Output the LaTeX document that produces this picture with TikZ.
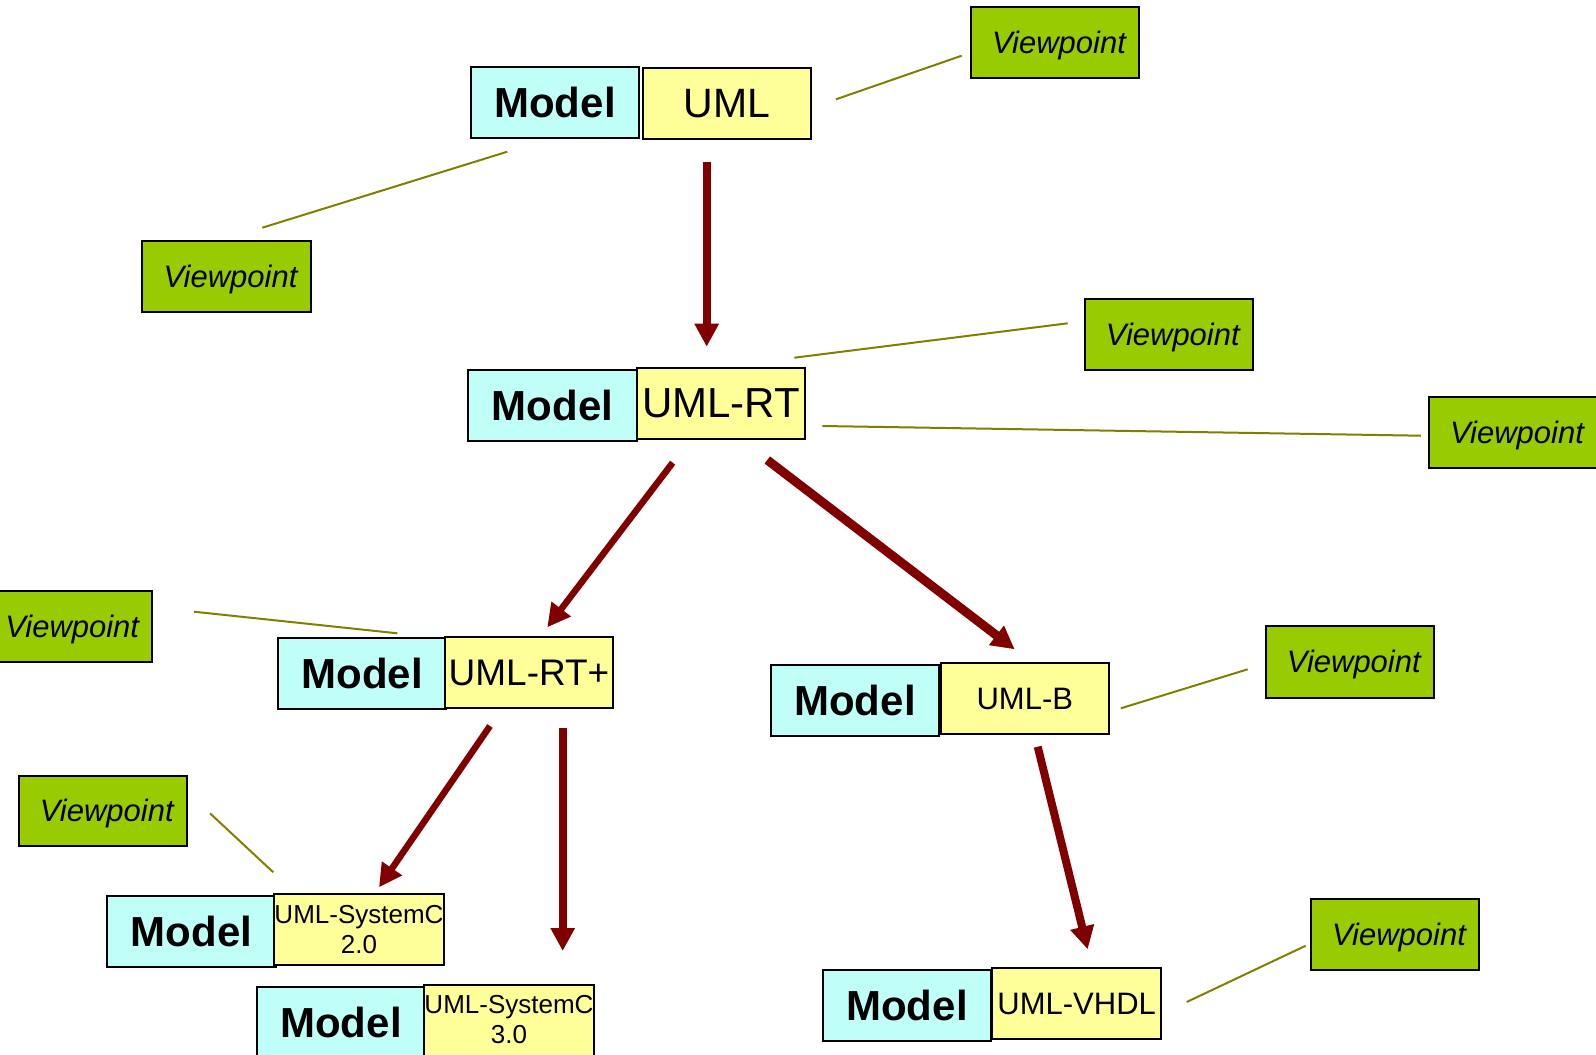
\documentclass[tikz,border=0pt]{standalone}
\usepackage{fontspec}
\setmainfont{Liberation Sans}
\usetikzlibrary{arrows.meta}
\definecolor{modelfill}{RGB}{192,255,248}
\definecolor{langfill}{RGB}{255,255,153}
\definecolor{vpfill}{RGB}{153,204,0}
\definecolor{arrowred}{RGB}{128,0,0}
\definecolor{vpline}{RGB}{128,128,0}
\tikzset{
  box/.style={draw=black, line width=2pt, inner sep=0pt,
    minimum width=168.5pt, minimum height=71pt, align=center},
  modelbox/.style={box, fill=modelfill,
    font=\fontsize{42}{48}\selectfont\bfseries},
  langbox/.style={box, fill=langfill},
  vpbox/.style={box, fill=vpfill, minimum height=70.5pt,
    font=\fontsize{31}{36}\selectfont\itshape,
    text height=22pt, text depth=0pt},
  derive/.style={draw=arrowred, line width=#1,
    -{Triangle[width=23pt,length=23pt]}},
  derive/.default=8pt,
  vplink/.style={draw=vpline, line width=2pt}
}
\begin{document}
\begin{tikzpicture}[x=1pt,y=-1pt]
\useasboundingbox (0,0) rectangle (1596,1055);
\clip (0,0) rectangle (1596,1055);

% model / language pairs
\node[modelbox] (m1) at (555,102.5) {Model};
\node[langbox, font=\fontsize{41}{48}\selectfont] (u1) at (727,103.2) {UML};

\node[modelbox] (m2) at (552.5,405.5) {Model};
\node[langbox, font=\fontsize{42}{48}\selectfont] (u2) at (721,403.7) {UML-RT};

\node[modelbox] (m3) at (362.2,673.9) {Model};
\node[langbox, font=\fontsize{37}{44}\selectfont] (u3) at (529,672.7) {UML-RT+};

\node[modelbox] (m4) at (855,700.9) {Model};
\node[langbox, font=\fontsize{31}{36}\selectfont] (u4) at (1024.8,698.7) {UML-B};

\node[modelbox] (m5) at (907,1005.5) {Model};
\node[langbox, font=\fontsize{31}{36}\selectfont] (u5) at (1076.7,1003.5) {UML-VHDL};

\node[modelbox] (m6) at (191.4,931.7) {Model};
\node[langbox, font=\fontsize{26}{30}\selectfont] (u6) at (359,929.7) {UML-SystemC\\2.0};

\node[modelbox] (m7) at (341,1022) {Model};
\node[langbox, font=\fontsize{26}{30}\selectfont] (u7) at (509,1020) {UML-SystemC\\3.0};

% viewpoints
\node[vpbox] (v1) at (1055,42.5) {\hspace*{8pt}Viewpoint};
\node[vpbox] (v2) at (226.5,276.7) {\hspace*{8pt}Viewpoint};
\node[vpbox] (v3) at (1168.8,334.7) {\hspace*{8pt}Viewpoint};
\node[vpbox] (v4) at (1513,432.5) {\hspace*{8pt}Viewpoint};
\node[vpbox] (v5) at (68.2,626.7) {\hspace*{8pt}Viewpoint};
\node[vpbox] (v6) at (102.8,810.9) {\hspace*{8pt}Viewpoint};
\node[vpbox, minimum height=72pt] (v7) at (1349.8,661.7) {\hspace*{8pt}Viewpoint};
\node[vpbox] (v8) at (1395,934.3) {\hspace*{8pt}Viewpoint};

% ends of the derivation arrows
\coordinate (a1s) at (706.7,161.7);  \coordinate (a1e) at (706.7,346.7);
\coordinate (a2s) at (672.7,462.7);  \coordinate (a2e) at (547.3,627.3);
\coordinate (a3s) at (767.3,460);    \coordinate (a3e) at (1014.7,649.3);
\coordinate (a4s) at (490,726);      \coordinate (a4e) at (379,887.3);
\coordinate (a5s) at (562.7,728.3);  \coordinate (a5e) at (562.7,951);
\coordinate (a6s) at (1037.7,746.7); \coordinate (a6e) at (1087.7,949.3);

\draw[derive] (a1s) -- (a1e);
\draw[derive=6.5pt] (a2s) -- (a2e);
\draw[derive=9pt] (a3s) -- (a3e);
\draw[derive=6.5pt] (a4s) -- (a4e);
\draw[derive] (a5s) -- (a5e);
\draw[derive] (a6s) -- (a6e);

% viewpoint links
\coordinate (l1s) at (836,99.3);     \coordinate (l1e) at (961.7,55.7);
\coordinate (l2s) at (507.3,151.7);  \coordinate (l2e) at (262.3,227.7);
\coordinate (l3s) at (794.3,357.7);  \coordinate (l3e) at (1067.7,323.3);
\coordinate (l4s) at (822.3,426);    \coordinate (l4e) at (1420.8,435.7);
\coordinate (l5s) at (397.3,633.3);  \coordinate (l5e) at (194,611.7);
\coordinate (l6s) at (273.3,872.3);  \coordinate (l6e) at (210,813.3);
\coordinate (l7s) at (1120.8,708.3); \coordinate (l7e) at (1247.7,669.3);
\coordinate (l8s) at (1186.7,1002);  \coordinate (l8e) at (1305.7,945.7);

\foreach \i in {1,...,8} {
  \draw[vplink] (l\i s) -- (l\i e);
}
\end{tikzpicture}
\end{document}
